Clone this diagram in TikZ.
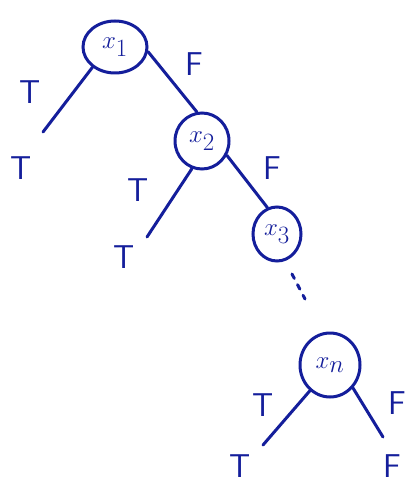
\documentclass[tikz,border=0pt]{standalone}
\usetikzlibrary{shapes.geometric}
\definecolor{ink}{RGB}{20,30,155}
\tikzset{
  x=1pt, y=-1pt,
  var/.style={draw=ink, ink, ellipse, line width=3pt, inner sep=0pt,
              font=\fontsize{40}{42}\selectfont},
  branch/.style={draw=ink, line width=3pt, line cap=round},
  lbl/.style={ink, font=\sffamily\fontsize{33}{35}\selectfont, inner sep=0pt},
  cont/.style={draw=ink, line width=3pt, dash pattern=on 5pt off 7pt, line cap=round}
}
\begin{document}
\begin{tikzpicture}
\useasboundingbox (0,0) rectangle (409,486);
\fill[white] (0,0) rectangle (409,486);

% variable nodes
\node[var, minimum width=64pt, minimum height=52pt] (x1) at (115,47) {$x_1$};
\node[var, minimum width=54pt, minimum height=56pt] (x2) at (202,141) {$x_2$};
\node[var, minimum width=48pt, minimum height=54pt] (x3) at (277,234) {$x_3$};
\node[var, minimum width=60pt, minimum height=64pt] (xn) at (330,365) {$x_n$};

% free ends of the leaf branches and the continuation
\coordinate (e1) at (43,132);
\coordinate (e2) at (147,237);
\coordinate (en1) at (263,445);
\coordinate (en2) at (383,437);
\coordinate (d1) at (292,274);
\coordinate (d2) at (305,299);

% branches
\draw[branch] (x1.222) -- (e1);
\draw[branch] (x1.-8) -- (x2.100);
\draw[branch] (x2.250) -- (e2);
\draw[branch] (x2.-30) -- (x3.110);
\draw[cont] (d1) -- (d2);
\draw[branch] (xn.232) -- (en1);
\draw[branch] (xn.-45) -- (en2);

% edge labels
\node[lbl] (t1) at (30,92) {T};
\node[lbl] (f1) at (194,64) {F};
\node[lbl] (t2) at (138,190) {T};
\node[lbl] (f2) at (272,168) {F};
\node[lbl] (tn) at (263,405) {T};
\node[lbl] (fn) at (397,403) {F};

% leaf values
\node[lbl] (l1) at (21,168) {T};
\node[lbl] (l2) at (124,257) {T};
\node[lbl] (ln1) at (240,466) {T};
\node[lbl] (ln2) at (392,466) {F};
\end{tikzpicture}
\end{document}
